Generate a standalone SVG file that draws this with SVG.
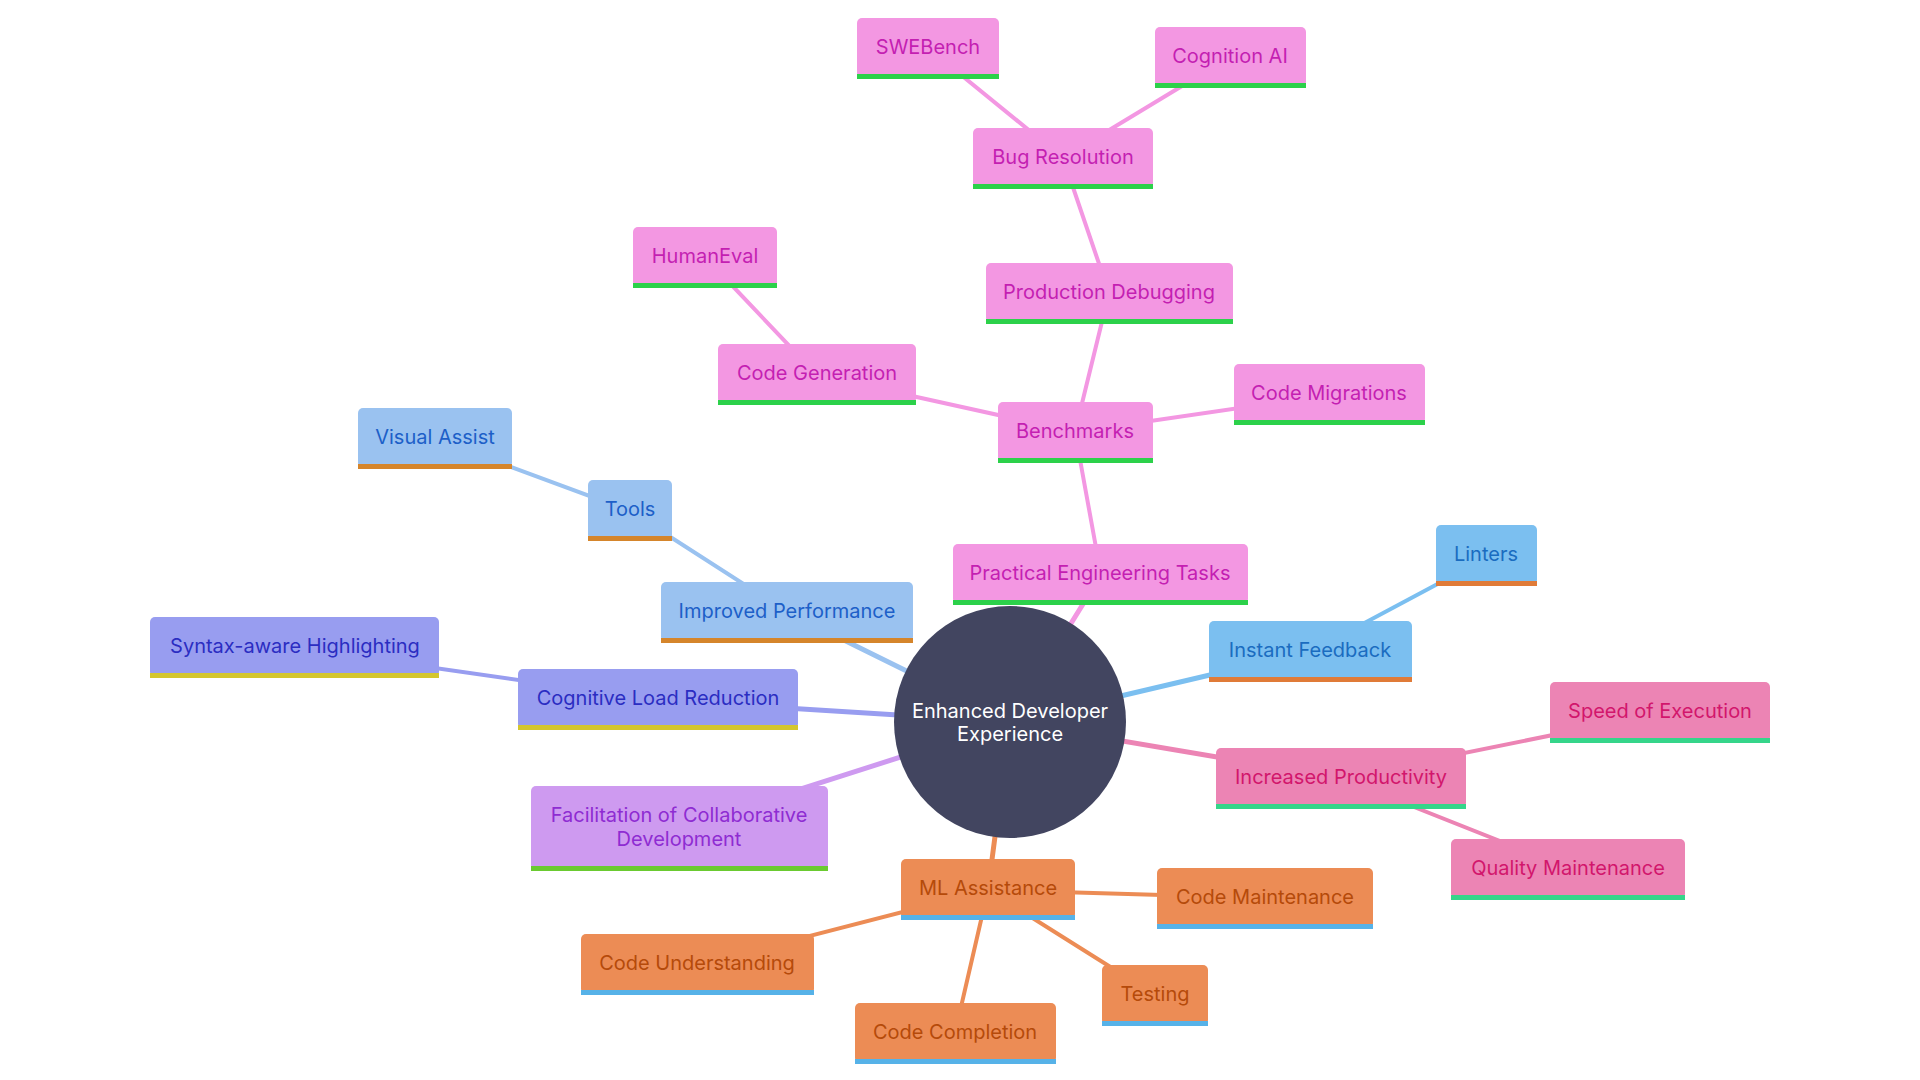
<svg xmlns="http://www.w3.org/2000/svg" width="1920" height="1080" viewBox="0 0 1920 1080">
<style>
text{font-family:Inter,"Noto Sans",sans-serif;font-size:20px;text-anchor:middle;dominant-baseline:central}
.e{fill:none;stroke-linecap:round}
.w1{stroke-width:5}.w2{stroke-width:4}.w3{stroke-width:4}
.pk .f{fill:#F397E2}.pk .b{fill:#2CD14A}.pk text{fill:#C41FB2}
.lb .f{fill:#9AC2F0}.lb .b{fill:#D5852B}.lb text{fill:#1D5FC8}
.sb .f{fill:#7BBFF0}.sb .b{fill:#E07B38}.sb text{fill:#1A6CC0}
.pb .f{fill:#989DF0}.pb .b{fill:#D4C62E}.pb text{fill:#2B2DC2}
.lv .f{fill:#CE9AF0}.lv .b{fill:#6ACA30}.lv text{fill:#8E2CD2}
.rs .f{fill:#EC84B4}.rs .b{fill:#35D58A}.rs text{fill:#D2166C}
.or .f{fill:#EC8C55}.or .b{fill:#56B2E8}.or text{fill:#B54A0A}
</style>
<rect width="1920" height="1080" fill="#FFFFFF"/>
<g id="connectors">
<g class="e" stroke="#F397E2">
<line class="w1" x1="1010" y1="722" x2="1101" y2="575"/>
<line class="w2" x1="1101" y1="575" x2="1075" y2="432"/>
<line class="w3" x1="1075" y1="432" x2="1109" y2="293"/>
<line class="w3" x1="1109" y1="293" x2="1063" y2="158"/>
<line class="w3" x1="1063" y1="158" x2="928" y2="48"/>
<line class="w3" x1="1063" y1="158" x2="1230" y2="57"/>
<line class="w3" x1="1075" y1="432" x2="817" y2="375"/>
<line class="w3" x1="1075" y1="432" x2="1329" y2="395"/>
<line class="w3" x1="817" y1="375" x2="705" y2="257"/>
</g>
<g class="e" stroke="#9AC2F0">
<line class="w1" x1="1010" y1="722" x2="787" y2="612"/>
<line class="w2" x1="787" y1="612" x2="630" y2="511"/>
<line class="w3" x1="630" y1="511" x2="435" y2="439"/>
</g>
<g class="e" stroke="#989DF0">
<line class="w1" x1="1010" y1="722" x2="658" y2="700"/>
<line class="w2" x1="658" y1="700" x2="295" y2="648"/>
</g>
<g class="e" stroke="#CE9AF0">
<line class="w1" x1="1010" y1="722" x2="679" y2="828"/>
</g>
<g class="e" stroke="#7BBFF0">
<line class="w1" x1="1010" y1="722" x2="1312" y2="651"/>
<line class="w2" x1="1312" y1="651" x2="1490" y2="556"/>
</g>
<g class="e" stroke="#EC84B4">
<line class="w1" x1="1010" y1="722" x2="1341" y2="778"/>
<line class="w2" x1="1341" y1="778" x2="1666" y2="712"/>
<line class="w2" x1="1341" y1="778" x2="1573" y2="870"/>
</g>
<g class="e" stroke="#EC8C55">
<line class="w1" x1="1010" y1="722" x2="988" y2="890"/>
<line class="w2" x1="988" y1="890" x2="1265" y2="898"/>
<line class="w2" x1="988" y1="890" x2="697" y2="965"/>
<line class="w2" x1="988" y1="890" x2="955" y2="1033"/>
<line class="w2" x1="988" y1="890" x2="1155" y2="995"/>
</g>
</g>
<g id="root">
<circle cx="1010" cy="722" r="116" fill="#424560"/>
<text x="1010" y="711" fill="#FFFFFF">Enhanced Developer</text>
<text x="1010" y="734" fill="#FFFFFF">Experience</text>
</g>
<g id="practical" class="pk"><rect class="f" x="953" y="544" width="295" height="60" rx="5"/><rect class="b" x="953" y="600" width="295" height="5"/><text x="1100" y="573">Practical Engineering Tasks</text></g>
<g id="benchmarks" class="pk"><rect class="f" x="998" y="402" width="155" height="60" rx="5"/><rect class="b" x="998" y="458" width="155" height="5"/><text x="1075" y="431">Benchmarks</text></g>
<g id="production" class="pk"><rect class="f" x="986" y="263" width="247" height="60" rx="5"/><rect class="b" x="986" y="319" width="247" height="5"/><text x="1109" y="292">Production Debugging</text></g>
<g id="bug" class="pk"><rect class="f" x="973" y="128" width="180" height="60" rx="5"/><rect class="b" x="973" y="184" width="180" height="5"/><text x="1063" y="157">Bug Resolution</text></g>
<g id="swebench" class="pk"><rect class="f" x="857" y="18" width="142" height="60" rx="5"/><rect class="b" x="857" y="74" width="142" height="5"/><text x="928" y="47">SWEBench</text></g>
<g id="cognition" class="pk"><rect class="f" x="1155" y="27" width="151" height="60" rx="5"/><rect class="b" x="1155" y="83" width="151" height="5"/><text x="1230" y="56">Cognition AI</text></g>
<g id="codegen" class="pk"><rect class="f" x="718" y="344" width="198" height="60" rx="5"/><rect class="b" x="718" y="400" width="198" height="5"/><text x="817" y="373">Code Generation</text></g>
<g id="humaneval" class="pk"><rect class="f" x="633" y="227" width="144" height="60" rx="5"/><rect class="b" x="633" y="283" width="144" height="5"/><text x="705" y="256">HumanEval</text></g>
<g id="migrations" class="pk"><rect class="f" x="1234" y="364" width="191" height="60" rx="5"/><rect class="b" x="1234" y="420" width="191" height="5"/><text x="1329" y="393">Code Migrations</text></g>
<g id="improved" class="lb"><rect class="f" x="661" y="582" width="252" height="60" rx="5"/><rect class="b" x="661" y="638" width="252" height="5"/><text x="787" y="611">Improved Performance</text></g>
<g id="tools" class="lb"><rect class="f" x="588" y="480" width="84" height="60" rx="5"/><rect class="b" x="588" y="536" width="84" height="5"/><text x="630" y="509">Tools</text></g>
<g id="visual" class="lb"><rect class="f" x="358" y="408" width="154" height="60" rx="5"/><rect class="b" x="358" y="464" width="154" height="5"/><text x="435" y="437">Visual Assist</text></g>
<g id="cognitive" class="pb"><rect class="f" x="518" y="669" width="280" height="60" rx="5"/><rect class="b" x="518" y="725" width="280" height="5"/><text x="658" y="698">Cognitive Load Reduction</text></g>
<g id="syntax" class="pb"><rect class="f" x="150" y="617" width="289" height="60" rx="5"/><rect class="b" x="150" y="673" width="289" height="5"/><text x="295" y="646">Syntax-aware Highlighting</text></g>
<g id="facilitation" class="lv"><rect class="f" x="531" y="786" width="297" height="84" rx="5"/><rect class="b" x="531" y="866" width="297" height="5"/><text x="679" y="815">Facilitation of Collaborative</text><text x="679" y="839">Development</text></g>
<g id="instant" class="sb"><rect class="f" x="1209" y="621" width="203" height="60" rx="5"/><rect class="b" x="1209" y="677" width="203" height="5"/><text x="1310" y="650">Instant Feedback</text></g>
<g id="linters" class="sb"><rect class="f" x="1436" y="525" width="101" height="60" rx="5"/><rect class="b" x="1436" y="581" width="101" height="5"/><text x="1486" y="554">Linters</text></g>
<g id="productivity" class="rs"><rect class="f" x="1216" y="748" width="250" height="60" rx="5"/><rect class="b" x="1216" y="804" width="250" height="5"/><text x="1341" y="777">Increased Productivity</text></g>
<g id="speed" class="rs"><rect class="f" x="1550" y="682" width="220" height="60" rx="5"/><rect class="b" x="1550" y="738" width="220" height="5"/><text x="1660" y="711">Speed of Execution</text></g>
<g id="quality" class="rs"><rect class="f" x="1451" y="839" width="234" height="60" rx="5"/><rect class="b" x="1451" y="895" width="234" height="5"/><text x="1568" y="868">Quality Maintenance</text></g>
<g id="ml" class="or"><rect class="f" x="901" y="859" width="174" height="60" rx="5"/><rect class="b" x="901" y="915" width="174" height="5"/><text x="988" y="888">ML Assistance</text></g>
<g id="maintenance" class="or"><rect class="f" x="1157" y="868" width="216" height="60" rx="5"/><rect class="b" x="1157" y="924" width="216" height="5"/><text x="1265" y="897">Code Maintenance</text></g>
<g id="understanding" class="or"><rect class="f" x="581" y="934" width="233" height="60" rx="5"/><rect class="b" x="581" y="990" width="233" height="5"/><text x="697" y="963">Code Understanding</text></g>
<g id="completion" class="or"><rect class="f" x="855" y="1003" width="201" height="60" rx="5"/><rect class="b" x="855" y="1059" width="201" height="5"/><text x="955" y="1032">Code Completion</text></g>
<g id="testing" class="or"><rect class="f" x="1102" y="965" width="106" height="60" rx="5"/><rect class="b" x="1102" y="1021" width="106" height="5"/><text x="1155" y="994">Testing</text></g>
</svg>
